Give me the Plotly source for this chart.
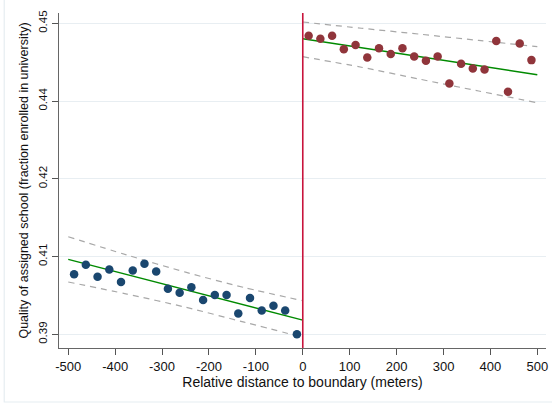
import plotly.graph_objects as go

# Binned means of school quality by distance to the attendance boundary
left_x = [-487.5, -462.5, -437.5, -412.5, -387.5, -362.5, -337.5, -312.5, -287.5, -262.5,
          -237.5, -212.5, -187.5, -162.5, -137.5, -112.5, -87.5, -62.5, -37.5, -12.5]
left_y = [0.4016, 0.4034, 0.4011, 0.4025, 0.4001, 0.4023, 0.4036, 0.4021, 0.3988, 0.3980,
          0.3991, 0.3966, 0.3976, 0.3976, 0.3940, 0.3970, 0.3946, 0.3955, 0.3946, 0.3900]
right_x = [12.5, 37.5, 62.5, 87.5, 112.5, 137.5, 162.5, 187.5, 212.5, 237.5,
           262.5, 287.5, 312.5, 337.5, 362.5, 387.5, 412.5, 437.5, 462.5, 487.5]
right_y = [0.4476, 0.4470, 0.4476, 0.4450, 0.4458, 0.4434, 0.4452, 0.4441, 0.4452, 0.4436,
           0.4428, 0.4436, 0.4384, 0.4422, 0.4413, 0.4411, 0.4466, 0.4368, 0.4461, 0.4429]

# Linear fits on each side of the boundary
fit_left_x = [-500, 0]
fit_left_y = [0.40447, 0.39275]
fit_right_x = [0, 500]
fit_right_y = [0.44703, 0.44008]

# Confidence bands around the fits
band_left_x = [-500, -375, -250, -125, 0]
band_left_hi = [0.40883, 0.40530, 0.40199, 0.39903, 0.39648]
band_left_lo = [0.40009, 0.39777, 0.39523, 0.39235, 0.38942]
band_right_x = [0, 125, 250, 375, 500]
band_right_hi = [0.45025, 0.44905, 0.44790, 0.44670, 0.44549]
band_right_lo = [0.44356, 0.44153, 0.43921, 0.43694, 0.43468]

x_ticks = [-500, -400, -300, -200, -100, 0, 100, 200, 300, 400, 500]
x_tick_text = ["-500", "-400", "-300", "-200", "-100", "0", "100", "200", "300", "400", "500"]
y_ticks = [0.39, 0.405, 0.42, 0.435, 0.45]
y_tick_text = ["0.39", "0.41", "0.42", "0.44", "0.45"]

BLUE = "#1a476f"
MAROON = "#90353b"
GREEN = "#008a00"
DASH = "#a8a8a8"
BOUNDARY = "#c8143c"

fig = go.Figure()

for bx, hi, lo in [(band_left_x, band_left_hi, band_left_lo),
                   (band_right_x, band_right_hi, band_right_lo)]:
    for vals in (hi, lo):
        fig.add_trace(go.Scatter(
            x=bx, y=vals, mode="lines",
            line=dict(color=DASH, width=1.2, dash="6px,5px", shape="spline", smoothing=0.8),
            hoverinfo="skip", showlegend=False))

fig.add_trace(go.Scatter(x=fit_left_x, y=fit_left_y, mode="lines",
                         line=dict(color=GREEN, width=1.4), showlegend=False))
fig.add_trace(go.Scatter(x=fit_right_x, y=fit_right_y, mode="lines",
                         line=dict(color=GREEN, width=1.4), showlegend=False))

fig.add_trace(go.Scatter(x=left_x, y=left_y, mode="markers",
                         marker=dict(color=BLUE, size=8.5), showlegend=False))
fig.add_trace(go.Scatter(x=right_x, y=right_y, mode="markers",
                         marker=dict(color=MAROON, size=8.5), showlegend=False))

# Boundary line
fig.add_shape(type="line", xref="x", yref="paper", x0=0, x1=0, y0=0, y1=1,
              line=dict(color=BOUNDARY, width=1.6))

# Light outer frame
fig.add_shape(type="rect", xref="paper", yref="paper",
              x0=-55 / 489, x1=1.2, y0=-54 / 335, y1=1.2,
              line=dict(color="#e6edf1", width=1.2), layer="below")

fig.update_layout(
    width=552, height=404,
    margin=dict(l=59, r=4, t=13, b=56),
    paper_bgcolor="white", plot_bgcolor="white",
    font=dict(family="Liberation Sans, Arial, sans-serif", color="#111111"),
    xaxis=dict(
        range=[-519.7, 518.5], tickvals=x_ticks, ticktext=x_tick_text,
        ticks="outside", ticklen=6, tickcolor="#555555", tickwidth=1,
        showline=True, linecolor="#666666", linewidth=1.3,
        showgrid=False, zeroline=False,
        tickfont=dict(size=13),
        title=dict(text="Relative distance to boundary (meters)", font=dict(size=14), standoff=4),
    ),
    yaxis=dict(
        range=[0.38736, 0.45199], tickvals=y_ticks, ticktext=y_tick_text,
        tickangle=-90,
        ticks="outside", ticklen=6, tickcolor="#555555", tickwidth=1,
        showline=True, linecolor="#666666", linewidth=1.3,
        showgrid=True, gridcolor="#e8eef2", gridwidth=1, zeroline=False,
        tickfont=dict(size=11.5),
        title=dict(text="Quality of assigned school (fraction enrolled in university)",
                   font=dict(size=12.5), standoff=5),
    ),
)

fig.write_html("out.html")
